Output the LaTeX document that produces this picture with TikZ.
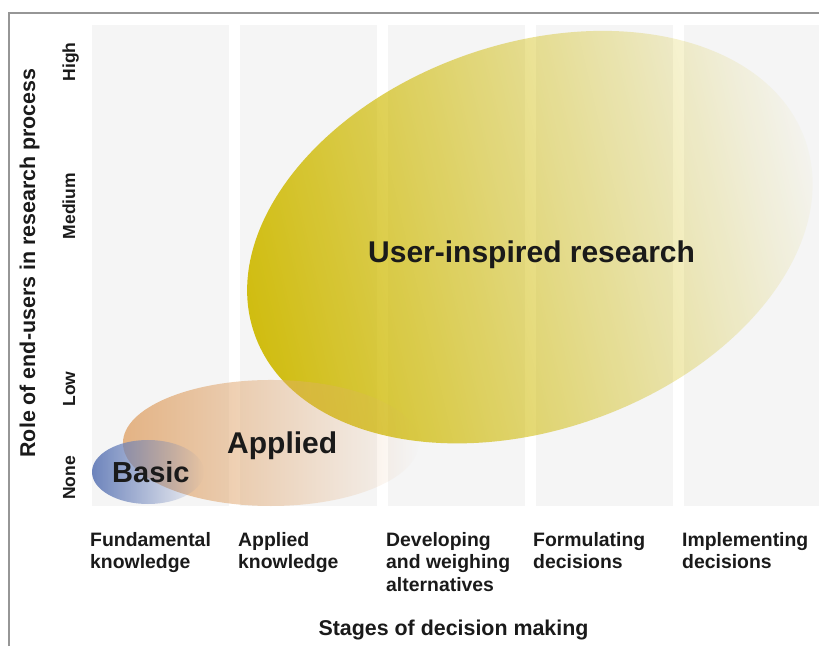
\documentclass[tikz,border=0pt]{standalone}
\usepackage{fontspec}
\setmainfont{Liberation Sans}
\usetikzlibrary{fadings}
\definecolor{bandgray}{RGB}{245,245,245}
\definecolor{uyellow}{RGB}{206,185,0}
\definecolor{apeach}{RGB}{226,172,120}
\definecolor{bblue}{RGB}{104,128,186}
\definecolor{framegray}{RGB}{150,150,150}
\definecolor{txt}{RGB}{26,26,26}
\tikzfading[name=fadeuser, left color=transparent!4, middle color=transparent!60, right color=transparent!100]
\tikzfading[name=fadeapplied, left color=transparent!10, right color=transparent!100]
\tikzfading[name=fadebasic, left color=transparent!4, right color=transparent!100]
\newcommand{\stagetext}[1]{\begin{tabular}[t]{@{}l@{}}#1\end{tabular}}
\begin{document}
\begin{tikzpicture}[x=1pt,y=-1pt,
  band/.style={fill=bandgray},
  biglabel/.style={font=\fontsize{30}{36}\selectfont\bfseries, inner sep=0, text=txt, anchor=base west},
  stagelabel/.style={font=\fontsize{19.4}{22.7}\selectfont\bfseries, inner sep=0, anchor=base west, text=txt},
  levellabel/.style={font=\fontsize{17.5}{21}\selectfont\bfseries, inner sep=0, rotate=90, anchor=base, text=txt},
  axislabel/.style={font=\fontsize{21.4}{25}\selectfont\bfseries, inner sep=0, anchor=base, text=txt}]
\useasboundingbox (0,0) rectangle (819,646);
\begin{scope}
\clip (0,0) rectangle (819,646);
% bands
\foreach \i in {0,...,4}{
  \fill[band] ({92+148*\i},25) rectangle ({229+148*\i},506);
}
% user-inspired ellipse
\fill[uyellow, path fading=fadeuser, fit fading=true, fading angle=10,
      rotate around={19.4:(530,237)}] (530,237) ellipse [x radius=292pt, y radius=193pt];
% applied ellipse
\fill[apeach, path fading=fadeapplied, fit fading=true] (271,443) ellipse [x radius=148pt, y radius=63pt];
% basic ellipse
\fill[bblue, path fading=fadebasic, fit fading=true] (148,472) ellipse [x radius=56pt, y radius=32pt];
\end{scope}
% frame
\draw[framegray, line width=1.5pt] (9,646) -- (9,13) -- (819,13);
% big labels
\node[biglabel] (user) at (368,262) {User-inspired research};
\node[biglabel] (applied) at (227,453) {Applied};
\node[biglabel, font=\fontsize{29}{35}\selectfont\bfseries] (basic) at (112,482) {Basic};
% stage labels
\node[stagelabel] (s1) at (90,546) {\stagetext{Fundamental\\knowledge}};
\node[stagelabel] (s2) at (238,546) {\stagetext{Applied\\knowledge}};
\node[stagelabel] (s3) at (386,546) {\stagetext{Developing\\and weighing\\alternatives}};
\node[stagelabel] (s4) at (533,546) {\stagetext{Formulating\\decisions}};
\node[stagelabel] (s5) at (682,546) {\stagetext{Implementing\\decisions}};
\node[axislabel] (xaxis) at (453.5,635) {Stages of decision making};
% level labels
\node[levellabel] (high) at (75,62) {High};
\node[levellabel] (medium) at (75,206) {Medium};
\node[levellabel] (low) at (75,389) {Low};
\node[levellabel] (none) at (75,478) {None};
\node[axislabel, rotate=90] (yaxis) at (35,263) {Role of end-users in research process};
\end{tikzpicture}
\end{document}
